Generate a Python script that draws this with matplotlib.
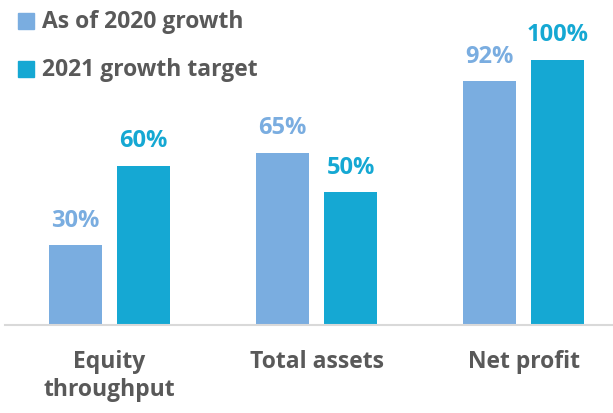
import matplotlib.pyplot as plt
from matplotlib.patches import Rectangle
import numpy as np

# chart data
categories = ["Equity\nthroughput", "Total assets", "Net profit"]
growth_2020 = [30, 65, 92]
target_2021 = [60, 50, 100]
series_names = ["As of 2020 growth", "2021 growth target"]

light = "#7AADE0"
dark = "#15A8D3"
grey = "#595959"

plt.rcParams['font.family'] = ['Open Sans', 'DejaVu Sans']

fig = plt.figure(figsize=(6.13, 4.13), dpi=100)
W, H = 613, 413
# axes placed in pixel terms: baseline at y=325 from top
ax = fig.add_axes([5 / W, (H - 325) / H, 608 / W, 325 / H])

x = np.arange(len(categories))
off = 0.164
bw = 0.256
b1 = ax.bar(x - off, growth_2020, bw, color=light)
b2 = ax.bar(x + off, target_2021, bw, color=dark)

for bars, vals, c in [(b1, growth_2020, light), (b2, target_2021, dark)]:
    for b, v in zip(bars, vals):
        ax.annotate(f"{v}%", (b.get_x() + b.get_width() / 2, v),
                    xytext=(0, 9), textcoords="offset points",
                    ha="center", va="bottom", color=c,
                    fontsize=17, fontweight="bold")

ax.set_xlim(-0.505, 2.432)
ax.set_ylim(0, 122.6)
ax.set_yticks([])
ax.set_xticks(x)
ax.set_xticklabels(categories, fontsize=16.5, fontweight="bold", color=grey,
                   linespacing=1.25, va="top")
ax.tick_params(axis="x", length=0, pad=18)
for s in ["top", "right", "left"]:
    ax.spines[s].set_visible(False)
ax.spines["bottom"].set_color("#D9D9D9")
ax.spines["bottom"].set_linewidth(1.5)

# legend drawn by hand at top left
for i, (name, c) in enumerate(zip(series_names, [light, dark])):
    ytop = 13 + i * 48
    fig.patches.append(Rectangle((18 / W, (H - ytop - 16) / H), 16 / W, 16 / H,
                                 transform=fig.transFigure, color=c))
    fig.text(42 / W, (H - ytop - 9) / H, name, fontsize=16.5, fontweight="bold",
             color=grey, va="center", ha="left")

fig.savefig("out.png", dpi=100)
